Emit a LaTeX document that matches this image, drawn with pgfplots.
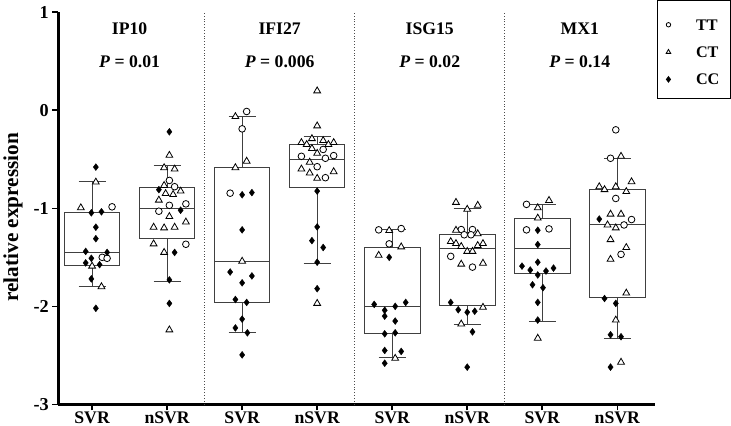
\documentclass[border=0pt]{standalone}
\usepackage{pgfplots}
\pgfplotsset{compat=1.18}
\usepgfplotslibrary{statistics}
\usepackage{fontspec}
\setmainfont{Liberation Serif}

\pgfplotsset{
  mybox/.style={forget plot, draw=black!75, line width=0.9pt, solid, mark=none,
    boxplot/draw direction=y,
    boxplot/box extend=0.74, boxplot/whisker extend=0.36},
  tt/.style={forget plot, only marks, mark=*, mark size=3.3pt,
    mark options={fill=white, draw=black, line width=0.8pt}},
  ct/.style={forget plot, only marks, mark=triangle*, mark size=3.9pt,
    mark options={fill=white, draw=black, line width=0.8pt}},
  cc/.style={forget plot, only marks, mark=diamond*, mark size=3.4pt,
    mark options={fill=black, draw=black, line width=0.4pt}},
}

\begin{document}
\begin{tikzpicture}
\begin{axis}[
  scale only axis, width=590pt, height=388pt,
  xmin=0.55, xmax=8.5, ymin=-3, ymax=1,
  axis x line*=bottom, axis y line*=left,
  axis line style={line width=2.5pt},
  tick align=outside, major tick length=6pt,
  tick style={line width=1.5pt, black},
  xtick={1,...,8},
  xticklabels={SVR,nSVR,SVR,nSVR,SVR,nSVR,SVR,nSVR},
  ytick={-3,-2,-1,0,1},
  yticklabels={-3,-2,-1,0,1},
  ticklabel style={font=\bfseries\fontsize{18}{18}\selectfont},
  xticklabel style={font=\bfseries\fontsize{17.5}{17.5}\selectfont, inner ysep=1.5pt, text depth=0pt},
  ylabel={relative expression},
  ylabel style={font=\bfseries\fontsize{21}{21}\selectfont, at={(axis description cs:-0.076,0.477)}, anchor=center},
  clip=false,
  legend style={at={(axis description cs:1.003,1.031)}, anchor=north west,
    draw=black, line width=1pt, font=\bfseries\fontsize{16}{16}\selectfont,
    inner xsep=9pt, inner ysep=10pt, row sep=4pt,
    nodes={text height=17.5pt},
    /tikz/every odd column/.append style={column sep=23pt}},
  legend cell align=left,
  legend image post style={yshift=-2.5pt},
]

% separators
\draw[dotted, line width=0.8pt, black!70] (axis cs:2.5,-3) -- (axis cs:2.5,1);
\draw[dotted, line width=0.8pt, black!70] (axis cs:4.5,-3) -- (axis cs:4.5,1);
\draw[dotted, line width=0.8pt, black!70] (axis cs:6.5,-3) -- (axis cs:6.5,1);

% boxes
\addplot[mybox, boxplot prepared={draw position=1, lower whisker=-1.80, lower quartile=-1.58, median=-1.455, upper quartile=-1.04, upper whisker=-0.73}] coordinates {};
\addplot[mybox, boxplot prepared={draw position=2, lower whisker=-1.745, lower quartile=-1.31, median=-1.0, upper quartile=-0.79, upper whisker=-0.566}] coordinates {};
\addplot[mybox, boxplot prepared={draw position=3, lower whisker=-2.27, lower quartile=-1.96, median=-1.545, upper quartile=-0.586, upper whisker=-0.061}] coordinates {};
\addplot[mybox, boxplot prepared={draw position=4, lower whisker=-1.564, lower quartile=-0.79, median=-0.504, upper quartile=-0.348, upper whisker=-0.266}] coordinates {};
\addplot[mybox, boxplot prepared={draw position=5, lower whisker=-2.518, lower quartile=-2.28, median=-2.0, upper quartile=-1.397, upper whisker=-1.217}] coordinates {};
\addplot[mybox, boxplot prepared={draw position=6, lower whisker=-2.18, lower quartile=-1.993, median=-1.41, upper quartile=-1.267, upper whisker=-1.0}] coordinates {};
\addplot[mybox, boxplot prepared={draw position=7, lower whisker=-2.157, lower quartile=-1.666, median=-1.414, upper quartile=-1.104, upper whisker=-0.957}] coordinates {};
\addplot[mybox, boxplot prepared={draw position=8, lower whisker=-2.33, lower quartile=-1.908, median=-1.169, upper quartile=-0.811, upper whisker=-0.49}] coordinates {};

% TT
\addplot[tt] coordinates {
(1.266,-0.985) (1.135,-1.50) (1.20,-1.51)
(2.03,-0.716) (2.10,-0.78) (2.03,-0.97) (2.25,-0.955) (1.89,-1.03) (2.25,-1.367)
(3.06,-0.013) (3.0,-0.19) (2.84,-0.846)
(4.08,-0.40) (3.79,-0.47) (4.11,-0.49) (4.22,-0.463) (4.0,-0.576) (4.11,-0.688)
(4.82,-1.22) (5.12,-1.207) (4.96,-1.363)
(5.92,-1.217) (6.07,-1.217) (5.96,-1.27) (6.05,-1.27) (5.78,-1.49) (6.07,-1.60)
(6.79,-0.96) (6.79,-1.22) (7.09,-1.21)
(7.98,-0.20) (7.91,-0.49) (7.98,-0.90) (8.19,-1.115) (8.09,-1.17) (8.05,-1.47)
};
% CT
\addplot[ct] coordinates {
(1.05,-0.733) (0.85,-0.995) (1.0,-1.59) (1.125,-1.80)
(2.03,-0.46) (1.96,-0.586) (2.10,-0.60) (1.96,-0.767) (1.98,-0.85) (2.08,-0.86) (2.18,-0.825) (1.89,-0.917) (2.03,-1.084) (1.82,-1.193) (1.96,-1.20) (2.10,-1.193) (2.25,-1.14) (1.82,-1.363) (1.96,-1.45) (2.03,-2.24)
(2.91,-0.065) (3.06,-0.52) (2.91,-0.586) (3.0,-1.54)
(4.0,0.197) (4.0,-0.16) (3.93,-0.29) (3.79,-0.33) (4.08,-0.31) (3.86,-0.35) (4.15,-0.35) (4.22,-0.33) (3.93,-0.39) (4.0,-0.44) (3.90,-0.53) (3.79,-0.60) (3.90,-0.64) (4.0,-0.695) (4.22,-0.627) (4.0,-1.97)
(4.96,-1.227) (5.12,-1.394) (4.82,-1.48) (5.04,-2.53)
(5.85,-0.94) (6.0,-1.01) (6.14,-0.97) (5.85,-1.224) (6.14,-1.26) (5.78,-1.34) (5.85,-1.36) (5.92,-1.39) (6.14,-1.38) (6.21,-1.36) (6.0,-1.44) (6.07,-1.44) (5.92,-1.57) (6.21,-1.56) (6.21,-2.01) (5.92,-2.18)
(7.09,-0.92) (6.94,-0.995) (6.94,-1.10) (6.94,-2.325)
(8.05,-0.47) (8.19,-0.73) (7.76,-0.78) (7.83,-0.81) (7.98,-0.78) (8.12,-0.83) (7.91,-1.06) (8.05,-1.06) (7.87,-1.17) (7.98,-1.20) (7.91,-1.32) (8.12,-1.40) (7.91,-1.52) (8.12,-1.865) (7.98,-2.14) (8.05,-2.57)
};
% CC
\addplot[cc] coordinates {
(1.05,-0.58) (0.99,-1.046) (1.125,-1.036) (1.05,-1.193) (1.05,-1.31) (0.915,-1.44) (0.99,-1.51) (1.20,-1.45) (0.915,-1.557) (1.10,-1.575) (0.99,-1.72) (1.05,-2.02)
(2.03,-0.22) (1.89,-0.81) (2.18,-1.02) (2.10,-1.45) (2.03,-1.73) (2.03,-1.97)
(3.0,-0.862) (3.13,-0.84) (3.0,-1.22) (2.84,-1.65) (3.13,-1.69) (3.0,-1.76) (2.91,-1.93) (3.06,-1.96) (3.0,-2.13) (2.91,-2.22) (3.07,-2.27) (3.0,-2.495)
(4.0,-0.825) (4.0,-1.19) (3.93,-1.33) (4.08,-1.40) (4.0,-1.55) (4.0,-1.82)
(4.96,-1.50) (4.76,-1.98) (5.18,-1.96) (4.90,-2.04) (5.04,-2.00) (4.90,-2.10) (5.04,-2.15) (4.90,-2.28) (5.04,-2.27) (4.90,-2.45) (5.12,-2.46) (4.90,-2.58)
(5.78,-1.96) (5.88,-2.035) (6.0,-2.06) (6.10,-2.05) (6.07,-2.26) (6.0,-2.62)
(6.94,-1.224) (6.94,-1.37) (6.94,-1.55) (6.73,-1.59) (7.15,-1.61) (6.84,-1.63) (7.05,-1.64) (6.94,-1.68) (6.87,-1.78) (7.01,-1.81) (6.94,-1.96) (6.94,-2.14)
(7.76,-1.11) (7.83,-1.92) (7.98,-1.97) (7.91,-2.29) (8.05,-2.31) (7.91,-2.62)
};

% legend
\addlegendimage{only marks, mark=*, mark size=2.2pt, mark options={fill=white, draw=black, line width=0.8pt}}
\addlegendentry{TT}
\addlegendimage{only marks, mark=triangle*, mark size=2.6pt, mark options={fill=white, draw=black, line width=0.8pt}}
\addlegendentry{CT}
\addlegendimage{only marks, mark=diamond*, mark size=2.6pt, mark options={fill=black, draw=black}}
\addlegendentry{CC}

% titles
\node[font=\bfseries\fontsize{17.5}{17.5}\selectfont] at (axis cs:1.5,0.83) {IP10};
\node[font=\bfseries\fontsize{17.5}{17.5}\selectfont] at (axis cs:3.5,0.83) {IFI27};
\node[font=\bfseries\fontsize{17.5}{17.5}\selectfont] at (axis cs:5.5,0.83) {ISG15};
\node[font=\bfseries\fontsize{17.5}{17.5}\selectfont] at (axis cs:7.5,0.83) {MX1};
\node[font=\bfseries\fontsize{17.5}{17.5}\selectfont] at (axis cs:1.5,0.49) {\textit{P} = 0.01};
\node[font=\bfseries\fontsize{17.5}{17.5}\selectfont] at (axis cs:3.5,0.49) {\textit{P} = 0.006};
\node[font=\bfseries\fontsize{17.5}{17.5}\selectfont] at (axis cs:5.5,0.49) {\textit{P} = 0.02};
\node[font=\bfseries\fontsize{17.5}{17.5}\selectfont] at (axis cs:7.5,0.49) {\textit{P} = 0.14};
\end{axis}
\end{tikzpicture}
\end{document}
